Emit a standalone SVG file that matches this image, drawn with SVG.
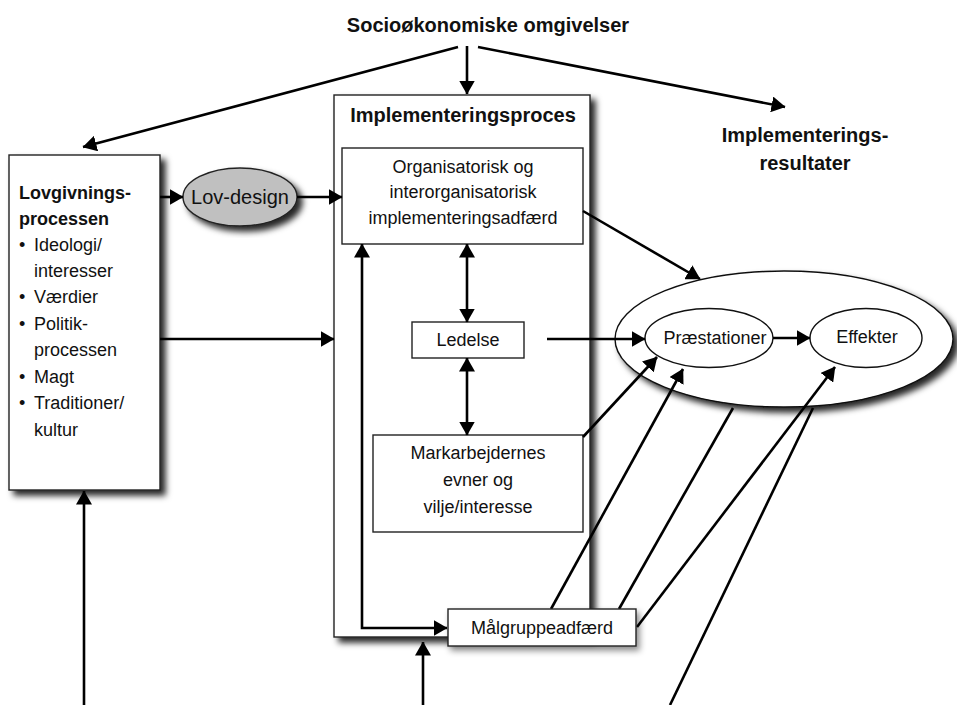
<svg xmlns="http://www.w3.org/2000/svg" width="957" height="705" viewBox="0 0 957 705">
<style>
  text{font-family:"Liberation Sans",Arial,sans-serif;fill:#111;}
  .t{font-size:18px;}
  .b{font-weight:bold;}
  .h{font-size:20px;font-weight:bold;}
  .c{text-anchor:middle;}
  .box{fill:#fff;stroke:#222;stroke-width:1.4;}
  .conn line,.conn path{stroke:#000;stroke-width:2.6;fill:none;}
  .arr{marker-end:url(#ah);}
  .dbl{marker-start:url(#ah);marker-end:url(#ah);}
</style>
<defs>
  <marker id="ah" markerUnits="userSpaceOnUse" markerWidth="14" markerHeight="16" refX="13.5" refY="8" orient="auto-start-reverse" viewBox="0 0 14 16">
    <path d="M0,0 L14,8 L0,16 z" fill="#000"/>
  </marker>
  <filter id="sh" x="-10%" y="-10%" width="130%" height="130%">
    <feDropShadow dx="5" dy="5" stdDeviation="3" flood-color="#000" flood-opacity="0.85"/>
  </filter>
  <filter id="shs" x="-10%" y="-20%" width="130%" height="160%">
    <feDropShadow dx="3" dy="4" stdDeviation="3" flood-color="#000" flood-opacity="0.45"/>
  </filter>
</defs>
<rect width="957" height="705" fill="#fff"/>

<g id="title">
  <text class="h c" x="488" y="32">Socioøkonomiske omgivelser</text>
</g>

<g id="resultat">
  <text class="h c" x="805" y="142">Implementerings-</text>
  <text class="h c" x="805" y="170">resultater</text>
</g>

<g id="lovgivning">
  <rect class="box" x="9" y="155" width="151" height="335" filter="url(#sh)"/>
  <text class="t b" x="19" y="199">Lovgivnings-</text>
  <text class="t b" x="19" y="225">processen</text>
  <text class="t" x="19" y="251">•</text><text class="t" x="34" y="251">Ideologi/</text>
  <text class="t" x="34" y="277">interesser</text>
  <text class="t" x="19" y="303">•</text><text class="t" x="34" y="303">Værdier</text>
  <text class="t" x="19" y="330">•</text><text class="t" x="34" y="330">Politik-</text>
  <text class="t" x="34" y="356">processen</text>
  <text class="t" x="19" y="383">•</text><text class="t" x="34" y="383">Magt</text>
  <text class="t" x="19" y="409">•</text><text class="t" x="34" y="409">Traditioner/</text>
  <text class="t" x="34" y="436">kultur</text>
</g>

<g id="lovdesign">
  <ellipse cx="240" cy="197" rx="57" ry="29" fill="#c0c0c0" stroke="#222" stroke-width="1.4" filter="url(#sh)"/>
  <text class="c" x="240" y="204" style="font-size:20px">Lov-design</text>
</g>

<g id="implementeringsproces">
  <rect class="box" x="334" y="95" width="256" height="542" filter="url(#sh)"/>
  <text class="h c" x="463" y="122">Implementeringsproces</text>
</g>

<g id="organisatorisk">
  <rect class="box" x="342" y="148" width="241" height="96"/>
  <text class="t c" x="463" y="173">Organisatorisk og</text>
  <text class="t c" x="463" y="198">interorganisatorisk</text>
  <text class="t c" x="463" y="224">implementeringsadfærd</text>
</g>

<g id="ledelse">
  <rect class="box" x="412" y="322" width="112" height="36"/>
  <text class="t c" x="468" y="346">Ledelse</text>
</g>

<g id="markarbejdere">
  <rect class="box" x="373" y="435" width="210" height="97"/>
  <text class="t c" x="478" y="459">Markarbejdernes</text>
  <text class="t c" x="478" y="486">evner og</text>
  <text class="t c" x="478" y="513">vilje/interesse</text>
</g>

<g id="resultatellipse">
  <ellipse cx="784" cy="339" rx="169" ry="68" fill="#fff" stroke="#111" stroke-width="1.4" filter="url(#sh)"/>
</g>

<g id="praestationer">
  <ellipse cx="709" cy="338" rx="64" ry="29.5" fill="#fff" stroke="#111" stroke-width="1.4"/>
  <text class="t c" x="715" y="344">Præstationer</text>
</g>

<g id="effekter">
  <ellipse cx="866" cy="338" rx="56" ry="29.5" fill="#fff" stroke="#111" stroke-width="1.4"/>
  <text class="t c" x="867" y="343">Effekter</text>
</g>

<g id="connectors" class="conn">
  <line class="arr" x1="458" y1="47" x2="83" y2="147"/>
  <line class="arr" x1="467" y1="46" x2="467" y2="94"/>
  <line class="arr" x1="478" y1="47" x2="785" y2="107"/>
  <line class="arr" x1="160" y1="197" x2="183" y2="197"/>
  <line class="arr" x1="297" y1="197" x2="342" y2="197"/>
  <line class="arr" x1="160" y1="339" x2="334" y2="339"/>
  <line class="dbl" x1="467" y1="244" x2="467" y2="322"/>
  <line class="dbl" x1="467" y1="358" x2="467" y2="435"/>
  <path class="dbl" d="M362,244 L362,628 L447,628"/>
  <line class="arr" x1="423" y1="705" x2="423" y2="642"/>
  <line class="arr" x1="84" y1="705" x2="84" y2="491"/>
  <line class="arr" x1="547" y1="339" x2="645" y2="339"/>
  <line class="arr" x1="773" y1="338" x2="810" y2="338"/>
  <line class="arr" x1="583" y1="211" x2="700" y2="279"/>
  <line class="arr" x1="583" y1="437" x2="657" y2="357"/>
  <line class="arr" x1="551" y1="609" x2="683" y2="369"/>
  <line x1="619" y1="609" x2="733" y2="408"/>
  <line class="arr" x1="637" y1="627" x2="835" y2="367"/>
  <line x1="670" y1="705" x2="813" y2="408"/>
</g>

<g id="maalgruppe">
  <rect class="box" x="448" y="609" width="188" height="37" filter="url(#shs)"/>
  <text class="t c" x="542" y="634">Målgruppeadfærd</text>
</g>
</svg>
